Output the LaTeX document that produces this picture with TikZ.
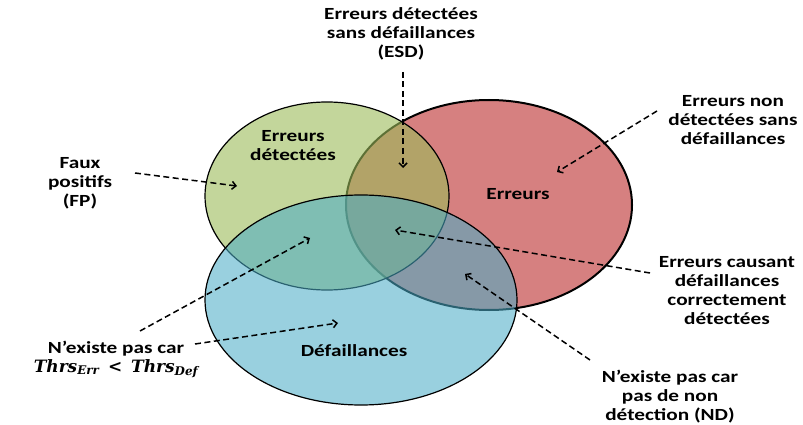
\documentclass[tikz,border=0pt]{standalone}
\usepackage{fontspec}
\setmainfont{Carlito}[FakeStretch=1.25]
\newfontfamily\thrsfont{DejaVu Serif}
\usetikzlibrary{arrows.meta}
\definecolor{errFill}{RGB}{214,128,128}
\definecolor{detFill}{RGB}{155,187,89}
\definecolor{defFill}{RGB}{75,172,198}
\newcommand{\thrs}[1]{Thrs\textsubscript{#1}}

\begin{document}
\begin{tikzpicture}[
  x=1pt, y=-1pt,
  font=\fontsize{17}{19}\selectfont\bfseries,
  set/.style  ={draw=black, line width=1.2pt},
  lbl/.style  ={align=center, inner sep=1pt, text=black},
  note/.style ={-{Straight Barb[length=4pt,width=8pt]}, line width=1.5pt,
                dash pattern=on 6pt off 3.5pt},
]
\useasboundingbox (0,0) rectangle (803,425);

% ============ SETS ============
\draw[set, line width=2pt, fill=errFill] (489,205) ellipse [x radius=143, y radius=105];
\draw[set, fill=detFill, fill opacity=.6] (327,196) ellipse [x radius=122, y radius=94];
\draw[set, fill=defFill, fill opacity=.57] (361,300) ellipse [x radius=156, y radius=105];

% ============ SET NAMES ============
\node[lbl] (det) at (293,146) {Erreurs\\détectées};
\node[lbl] (err) at (518,194) {Erreurs};
\node[lbl] (dfl) at (354,351) {Défaillances};

% ============ REGION NOTES ============
\node[lbl] (esd)  at (401,34)  {Erreurs détectées\\sans défaillances\\(ESD)};
\node[lbl] (fp)   at (80,183)  {Faux\\positifs\\(FP)};
\node[lbl] (ends) at (733,120) {Erreurs non\\détectées sans\\défaillances};
\node[lbl] (ecd)  at (727,291) {Erreurs causant\\défaillances\\correctement\\détectées};
\node[lbl] (nd)   at (670,397) {N’existe pas car\\pas de non\\détection (ND)};
\node[lbl] (thr)  at (116,359) {N’existe pas car\\
  {\thrsfont\bfseries\itshape\fontsize{17}{19}\selectfont \thrs{Err}\, <\, \thrs{Def}}};

% arrow ends
\coordinate (esdS) at (403,72);  \coordinate (esdT) at (403,168);
\coordinate (endsS) at (657,111); \coordinate (endsT) at (557,172);
\coordinate (fpS) at (135,173);  \coordinate (fpT) at (237,186);
\coordinate (ecdS) at (650,273); \coordinate (ecdT) at (395,230);
\coordinate (ndS) at (590,360);  \coordinate (ndT) at (465,274);
\coordinate (thrS) at (140,331); \coordinate (thrT) at (310,238);
\coordinate (thrS2) at (195,344); \coordinate (thrT2) at (338,323);

\draw[note] (esdS) -- (esdT);
\draw[note] (endsS) -- (endsT);
\draw[note] (fpS) -- (fpT);
\draw[note] (ecdS) -- (ecdT);
\draw[note] (ndS) -- (ndT);
\draw[note] (thrS) -- (thrT);
\draw[note] (thrS2) -- (thrT2);

\end{tikzpicture}
\end{document}
